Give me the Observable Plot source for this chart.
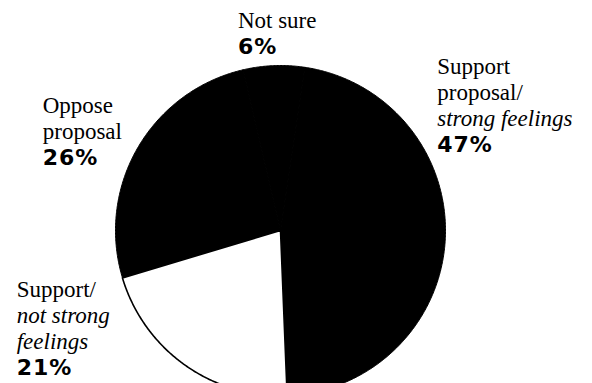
<!DOCTYPE html>
<html><head><meta charset="utf-8">
<script src="https://cdn.jsdelivr.net/npm/d3@7"></script>
<script src="https://cdn.jsdelivr.net/npm/@observablehq/plot@0.6"></script>
<style>
body{margin:0;background:#fff;}
.pct text{letter-spacing:1px;}
</style></head><body><div id="chart"></div>
<script>
// ---- data ----
const categories = ["Support proposal/strong feelings", "Support/not strong feelings", "Oppose proposal", "Not sure"];
const values = [47, 21, 26, 6];
const nameLines = [["Support", "proposal/", "strong feelings"], ["Support/", "not strong", "feelings"], ["Oppose", "proposal"], ["Not sure"]];
const percentLabels = ["47%", "21%", "26%", "6%"];

// ---- style / layout ----
const sliceFill = ["black", "white", "black", "black"];
const italicFrom = [2, 1, 99, 99];
const labelOffset = [[-8, -165], [-168, -68], [-95, -35], [-36, -38]]; // px from the rim point at each slice's mid-angle
const lineH = 26, pctGap = 26;
const start = 8.5 * Math.PI / 180;

const arcs = d3.pie().sort(null).startAngle(start).endAngle(start + 2 * Math.PI)(values);

function slicePoints(i) {
  const a = arcs[i], cat = categories[i], pts = [{cat, x: 0, y: 0}];
  const n = Math.max(2, Math.ceil((a.endAngle - a.startAngle) / (Math.PI / 360)));
  for (let k = 0; k <= n; k++) {
    const t = a.startAngle + (a.endAngle - a.startAngle) * k / n;
    pts.push({cat, x: Math.sin(t), y: Math.cos(t)});
  }
  pts.push({cat, x: 0, y: 0});
  return pts;
}

const marks = [];
// black slices first, white on top
const order = d3.range(categories.length).sort((a, b) => (sliceFill[a] === "white") - (sliceFill[b] === "white"));
for (const i of order) {
  marks.push(Plot.line(slicePoints(i), {
    x: "x", y: "y", z: "cat", fill: sliceFill[i], stroke: "black",
    strokeWidth: sliceFill[i] === "white" ? 1.6 : 1, curve: "linear", clip: true
  }));
}

// labels
arcs.forEach((a, i) => {
  const mid = (a.startAngle + a.endAngle) / 2;
  const anchor = [{x: Math.sin(mid), y: Math.cos(mid)}];
  const [ox, oy] = labelOffset[i];
  nameLines[i].forEach((line, j) => {
    marks.push(Plot.text(anchor, {
      x: "x", y: "y", text: () => line, dx: ox, dy: oy + j * lineH,
      textAnchor: "start", lineAnchor: "bottom", fontFamily: "Liberation Serif",
      fontSize: 23, fontStyle: j >= italicFrom[i] ? "italic" : "normal", fill: "black"
    }));
  });
  marks.push(Plot.text(anchor, {
    x: "x", y: "y", text: () => percentLabels[i], dx: ox, dy: oy + (nameLines[i].length - 1) * lineH + pctGap,
    textAnchor: "start", lineAnchor: "bottom", fontFamily: "DejaVu Sans",
    fontSize: 22, fontWeight: "bold", fill: "black", className: "pct"
  }));
});

const chart = Plot.plot({
  width: 592, height: 383,
  marginLeft: 106.75, marginRight: 138.75, marginTop: 56.75, marginBottom: 0,
  x: {domain: [-1.05, 1.05], axis: null},
  y: {domain: [-0.927, 1.05], axis: null},
  marks
});
document.getElementById("chart").appendChild(chart);
</script></body></html>
